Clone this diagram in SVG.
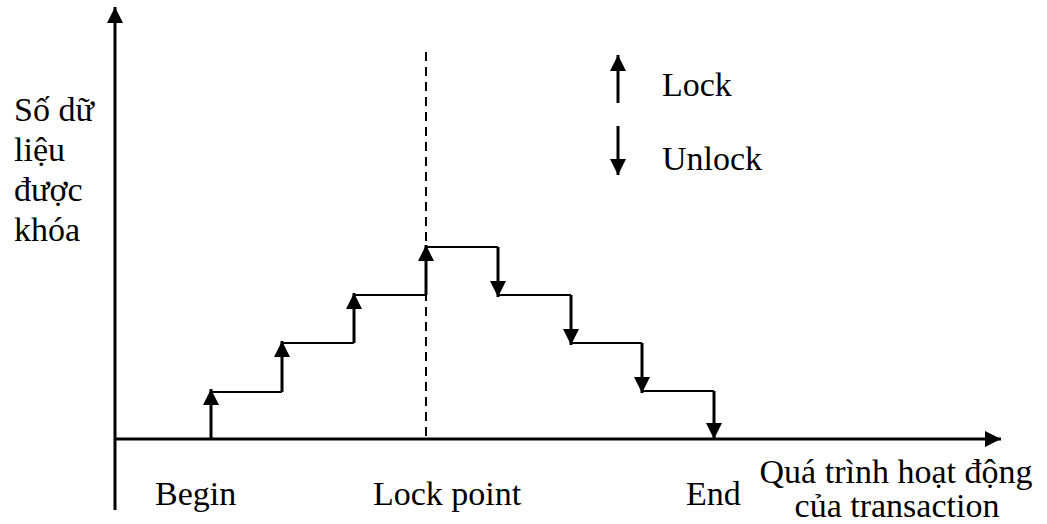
<svg xmlns="http://www.w3.org/2000/svg" width="1047" height="524" viewBox="0 0 1047 524">
<style>
text{font-family:"Liberation Serif","Times New Roman",serif;font-size:34px;fill:#000}
.ax{stroke:#000;stroke-width:3;fill:none}
.ln{stroke:#000;stroke-width:2;fill:none}
.st{stroke:#000;stroke-width:3;fill:none}
.mid{text-anchor:middle}
</style>
<defs>
<marker id="ah" viewBox="0 0 10 10" refX="10" refY="5" markerWidth="16" markerHeight="16" markerUnits="userSpaceOnUse" orient="auto">
<path d="M0,0 L10,5 L0,10 Z" fill="#000"/>
</marker>
</defs>
<g id="connectors">
<line class="ax" x1="115" y1="510" x2="115" y2="7" marker-end="url(#ah)"/>
<line class="ax" x1="115" y1="439" x2="1001" y2="439" marker-end="url(#ah)"/>
<line class="ln" x1="426" y1="52" x2="426" y2="439" stroke-dasharray="9,6"/>
<line class="st" x1="211" y1="439" x2="211" y2="389" marker-end="url(#ah)"/>
<line class="ln" x1="211" y1="392" x2="282" y2="392"/>
<line class="st" x1="282" y1="392" x2="282" y2="341" marker-end="url(#ah)"/>
<line class="ln" x1="282" y1="343" x2="354" y2="343"/>
<line class="st" x1="354" y1="343" x2="354" y2="293" marker-end="url(#ah)"/>
<line class="ln" x1="354" y1="295" x2="426" y2="295"/>
<line class="st" x1="426" y1="295" x2="426" y2="245" marker-end="url(#ah)"/>
<line class="ln" x1="426" y1="247" x2="498" y2="247"/>
<line class="st" x1="498" y1="247" x2="498" y2="297" marker-end="url(#ah)"/>
<line class="ln" x1="498" y1="295" x2="571" y2="295"/>
<line class="st" x1="571" y1="295" x2="571" y2="345" marker-end="url(#ah)"/>
<line class="ln" x1="571" y1="343" x2="642" y2="343"/>
<line class="st" x1="642" y1="343" x2="642" y2="393" marker-end="url(#ah)"/>
<line class="ln" x1="642" y1="391" x2="714" y2="391"/>
<line class="st" x1="714" y1="391" x2="714" y2="439" marker-end="url(#ah)"/>
<line class="st" x1="618" y1="103" x2="618" y2="55" marker-end="url(#ah)"/>
<line class="st" x1="618" y1="126" x2="618" y2="175" marker-end="url(#ah)"/>
</g>
<g id="legend">
<text x="662" y="96">Lock</text>
<text x="662" y="170">Unlock</text>
</g>
<g id="y-label">
<text x="14" y="121">Số dữ</text>
<text x="14" y="161">liệu</text>
<text x="14" y="201">được</text>
<text x="14" y="241">khóa</text>
</g>
<g id="x-labels">
<text x="155" y="505">Begin</text>
<text x="373" y="505">Lock point</text>
<text x="686" y="505">End</text>
<text class="mid" x="896" y="483">Quá trình hoạt động</text>
<text class="mid" x="897" y="517">của transaction</text>
</g>
</svg>
